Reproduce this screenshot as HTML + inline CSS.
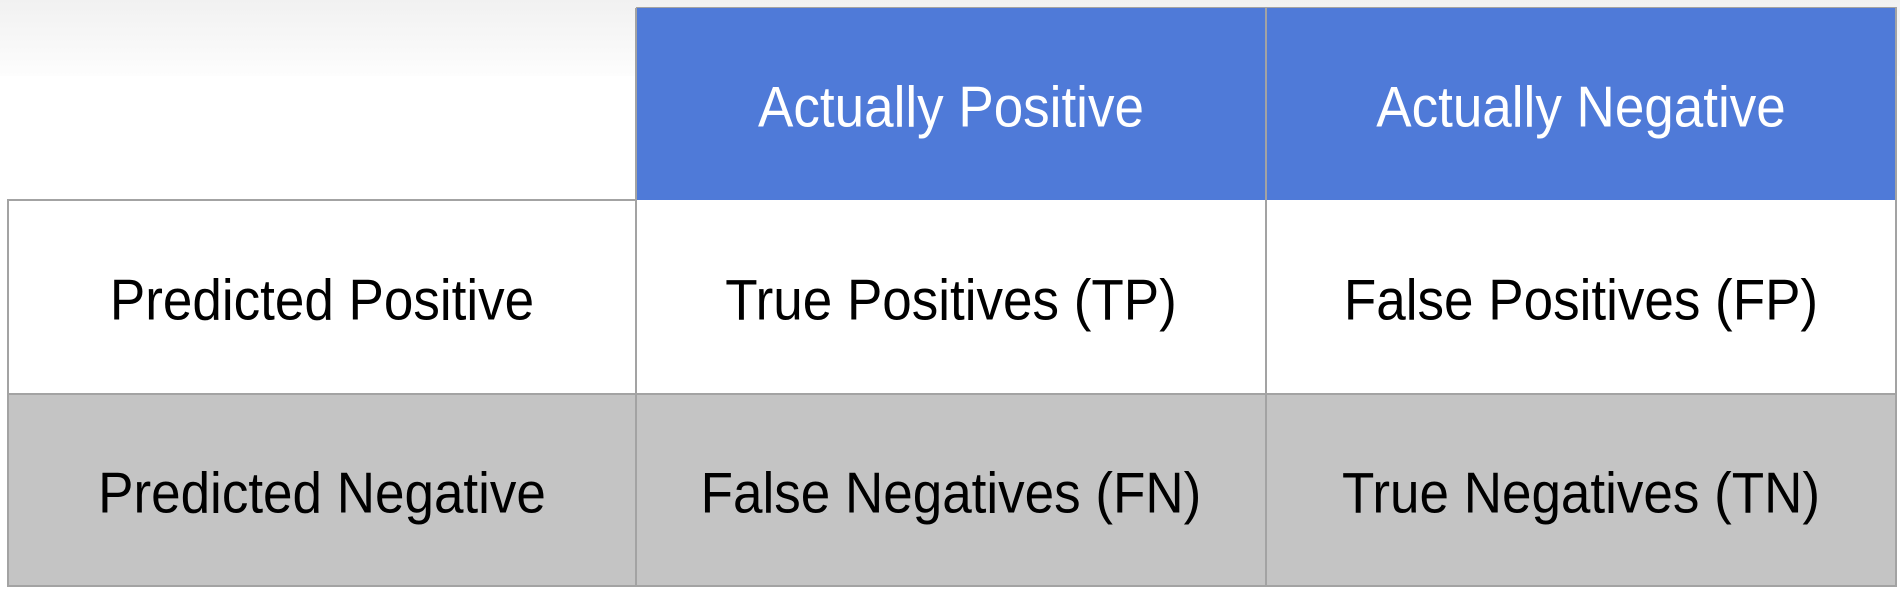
<!DOCTYPE html>
<html><head><meta charset="utf-8"><style>
html,body{margin:0;padding:0;width:1900px;height:596px;overflow:hidden;background:#fff;font-family:"Liberation Sans",Arial,sans-serif;}
#fade{position:absolute;left:0;top:0;width:1900px;height:76px;background:linear-gradient(#f1f1f1,#fdfdfd);}
.c{position:absolute;box-sizing:border-box;display:flex;align-items:center;justify-content:center;font-size:53px;color:#000;padding-top:7px;}
.c span{display:inline-block;transform:scaleY(1.08);}
.h{background:#4f7ad8;color:#fff;}
.w{background:#fff;}
.g{background:#c4c4c4;}
.line{position:absolute;background:#a3a3a3;}
</style></head><body>
<div id="fade"></div>
<div class="c h" style="left:636px;top:8px;width:630px;height:192px"><span>Actually Positive</span></div>
<div class="c h" style="left:1266px;top:8px;width:630px;height:192px"><span>Actually Negative</span></div>
<div class="c w" style="left:8px;top:200px;width:628px;height:194px"><span>Predicted Positive</span></div>
<div class="c w" style="left:636px;top:200px;width:630px;height:194px"><span>True Positives (TP)</span></div>
<div class="c w" style="left:1266px;top:200px;width:630px;height:194px"><span>False Positives (FP)</span></div>
<div class="c g" style="left:8px;top:394px;width:628px;height:192px"><span>Predicted Negative</span></div>
<div class="c g" style="left:636px;top:394px;width:630px;height:192px"><span>False Negatives (FN)</span></div>
<div class="c g" style="left:1266px;top:394px;width:630px;height:192px"><span>True Negatives (TN)</span></div>
<div class="line" style="left:7px;top:199px;width:630px;height:2px"></div>
<div class="line" style="left:7px;top:393px;width:1890px;height:2px"></div>
<div class="line" style="left:7px;top:585px;width:1890px;height:2px"></div>
<div class="line" style="left:7px;top:199px;width:2px;height:388px"></div>
<div class="line" style="left:635px;top:8px;width:2px;height:579px"></div>
<div class="line" style="left:1265px;top:8px;width:2px;height:579px"></div>
<div class="line" style="left:1895px;top:8px;width:2px;height:579px"></div>
<div class="line" style="left:636px;top:7px;width:1261px;height:1px"></div>
</body></html>
